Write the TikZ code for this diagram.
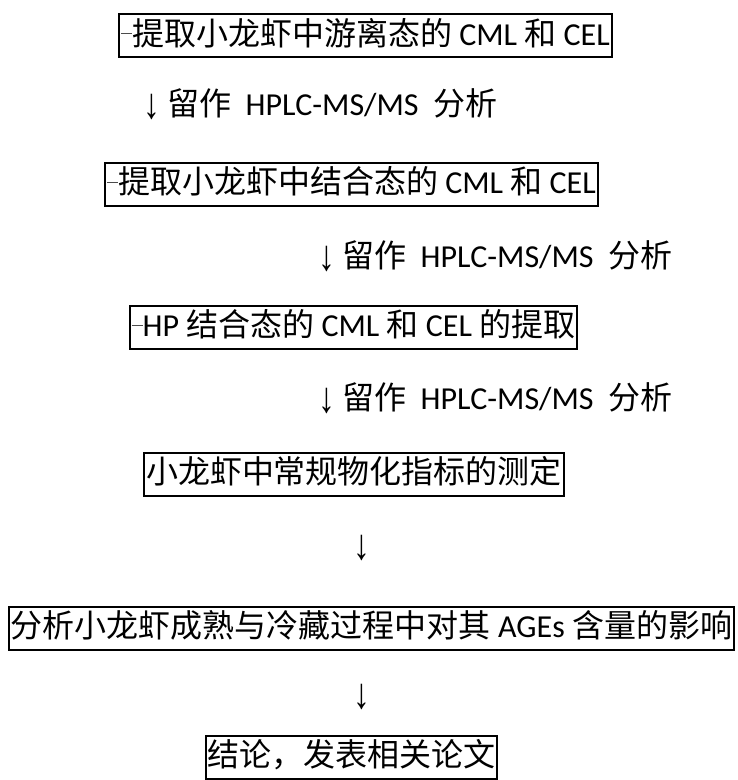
\documentclass[tikz,border=0pt]{standalone}
\usepackage{fontspec}
\usepackage{graphicx}
\setmainfont{Carlito}
\newfontfamily\cjk{Noto Sans CJK SC}
\newfontfamily\arrowfont{Liberation Serif}
\newcommand\leaddash{\textcolor{black!70}{\rule[0.33em]{0.34em}{0.045em}}}
\newcommand\darr{\raisebox{-0.08em}{\scalebox{1.05}[1.35]{\arrowfont ↓}}}
\tikzset{
  box/.style={draw, line width=2pt, minimum height=43pt, inner xsep=1.8pt, inner ysep=0pt,
              text height=25pt, text depth=6pt, font=\fontsize{32}{38}\selectfont},
  txt/.style={inner sep=0pt, anchor=west, font=\fontsize{32}{38}\selectfont},
  arr/.style={inner sep=0pt, font=\fontsize{32}{38}\selectfont}
}
\begin{document}
\begin{tikzpicture}[x=1pt,y=-1pt]
\useasboundingbox (0,0) rectangle (738,780);
\node[box] (b1) at (365.5,35.5) {\leaddash{\cjk 提取小龙虾中游离态的} CML {\cjk 和} CEL};
\node[txt] (t1) at (143,104) {\darr{} {\cjk 留作}\ \ HPLC-MS/MS\ \ {\cjk 分析}};
\node[box] (b2) at (351.5,184) {\leaddash{\cjk 提取小龙虾中结合态的} CML {\cjk 和} CEL};
\node[txt] (t2) at (318,256) {\darr{} {\cjk 留作}\ \ HPLC-MS/MS\ \ {\cjk 分析}};
\node[box] (b3) at (353.5,327) {\leaddash HP {\cjk 结合态的} CML {\cjk 和} CEL {\cjk 的提取}};
\node[txt] (t3) at (318,398) {\darr{} {\cjk 留作}\ \ HPLC-MS/MS\ \ {\cjk 分析}};
\node[box] (b4) at (354,474) {{\cjk 小龙虾中常规物化指标的测定}};
\node[arr] (a4) at (362,548) {\darr};
\node[box] (b5) at (371.5,628) {{\cjk 分析小龙虾成熟与冷藏过程中对其} AGEs {\cjk 含量的影响}};
\node[arr] (a5) at (362,697) {\darr};
\node[box] (b6) at (351.5,757) {{\cjk 结论，发表相关论文}};
\end{tikzpicture}
\end{document}
